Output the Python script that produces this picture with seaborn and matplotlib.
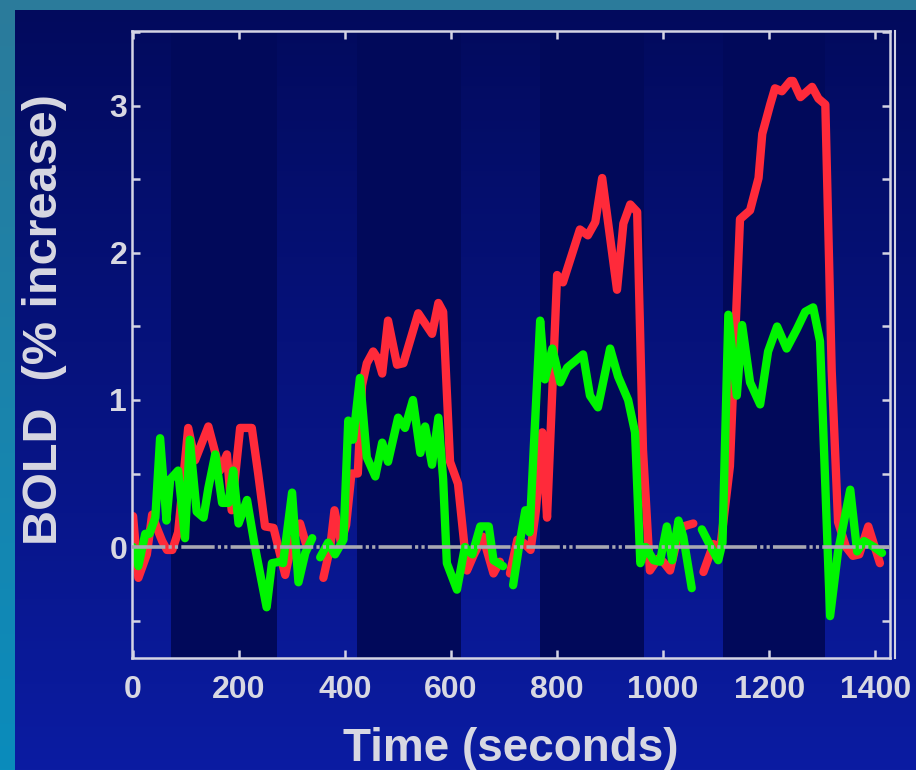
import numpy as np
import pandas as pd
import matplotlib
matplotlib.use("Agg")
import matplotlib.pyplot as plt
import seaborn as sns
from matplotlib.ticker import MultipleLocator, FuncFormatter

# stimulus blocks (seconds): darker shaded bands
block_start = [72, 423, 768, 1113]
block_end = [272, 619, 964, 1306]

# red trace, one list per block
red1_t = [0, 10, 26, 36, 46, 55, 64, 74, 85, 104, 117, 142, 164, 177, 186, 202, 224, 236, 249, 265, 287, 300, 315, 328]
red1_v = [0.21, -0.21, -0.05, 0.22, 0.12, 0.04, -0.02, -0.02, 0.10, 0.81, 0.59, 0.82, 0.52, 0.63, 0.25, 0.81, 0.81, 0.50, 0.14, 0.13, -0.19, 0.03, 0.16, 0.0]
red2_t = [359, 372, 380, 392, 402, 412, 424, 432, 441, 453, 462, 470, 481, 498, 510, 538, 564, 576, 585, 598, 613, 630, 642, 660, 680, 692]
red2_v = [-0.21, 0.0, 0.25, 0.03, 0.15, 0.50, 0.50, 1.10, 1.25, 1.33, 1.28, 1.18, 1.54, 1.24, 1.25, 1.59, 1.45, 1.66, 1.60, 0.58, 0.43, -0.16, -0.06, 0.07, -0.18, -0.10]
red3_t = [711, 725, 736, 750, 760, 772, 781, 800, 811, 843, 858, 872, 885, 913, 925, 938, 951, 962, 975, 990, 1000, 1013, 1025, 1038, 1057]
red3_v = [-0.18, 0.05, 0.03, -0.02, 0.25, 0.78, 0.20, 1.85, 1.80, 2.16, 2.12, 2.21, 2.51, 1.75, 2.20, 2.33, 2.28, 0.66, -0.16, -0.08, -0.10, -0.16, 0.03, 0.14, 0.16]
red4_t = [1076, 1095, 1108, 1126, 1145, 1164, 1180, 1187, 1202, 1211, 1224, 1240, 1245, 1259, 1281, 1293, 1306, 1318, 1330, 1345, 1358, 1370, 1387, 1409]
red4_v = [-0.17, 0.02, 0.0, 0.55, 2.23, 2.29, 2.51, 2.81, 3.01, 3.12, 3.10, 3.17, 3.17, 3.06, 3.13, 3.05, 3.01, 1.20, 0.17, 0.0, -0.06, -0.05, 0.14, -0.11]

# green trace, one list per block
green1_t = [0, 10, 23, 31, 42, 51, 63, 70, 85, 98, 107, 120, 133, 142, 155, 168, 180, 189, 199, 215, 230, 252, 262, 277, 283, 300, 312, 325, 338]
green1_v = [0.0, -0.13, 0.09, 0.09, 0.20, 0.74, 0.18, 0.46, 0.52, 0.06, 0.73, 0.24, 0.20, 0.40, 0.63, 0.30, 0.30, 0.52, 0.16, 0.32, 0.0, -0.41, -0.11, -0.10, -0.11, 0.37, -0.24, -0.04, 0.06]
green2_t = [353, 368, 381, 397, 406, 415, 428, 441, 457, 470, 481, 500, 513, 528, 542, 551, 564, 576, 585, 592, 611, 626, 640, 655, 671, 680, 698]
green2_v = [-0.07, 0.03, -0.05, 0.05, 0.86, 0.73, 1.15, 0.61, 0.48, 0.71, 0.58, 0.88, 0.81, 1.00, 0.64, 0.82, 0.56, 0.88, 0.46, -0.11, -0.29, 0.0, -0.05, 0.14, 0.14, -0.09, -0.13]
green3_t = [717, 728, 740, 748, 768, 777, 791, 806, 819, 849, 862, 877, 900, 915, 934, 947, 957, 967, 982, 994, 1007, 1017, 1029, 1038, 1054]
green3_v = [-0.26, 0.0, 0.25, 0.10, 1.54, 1.14, 1.35, 1.12, 1.22, 1.31, 1.03, 0.95, 1.35, 1.16, 1.00, 0.78, -0.11, 0.0, -0.09, -0.10, 0.14, -0.09, 0.18, 0.07, -0.28]
green4_t = [1073, 1090, 1104, 1112, 1123, 1139, 1149, 1164, 1183, 1198, 1215, 1233, 1252, 1268, 1283, 1296, 1315, 1330, 1353, 1366, 1379, 1398, 1413]
green4_v = [0.12, 0.0, -0.09, 0.03, 1.58, 1.03, 1.51, 1.12, 0.97, 1.33, 1.50, 1.35, 1.48, 1.60, 1.63, 1.40, -0.47, -0.03, 0.39, -0.03, 0.04, 0.0, -0.04]

x_ticks = [0, 200, 400, 600, 800, 1000, 1200, 1400]

frames = []
for sig, blocks in [("red", [(red1_t, red1_v), (red2_t, red2_v), (red3_t, red3_v), (red4_t, red4_v)]),
                    ("green", [(green1_t, green1_v), (green2_t, green2_v), (green3_t, green3_v), (green4_t, green4_v)])]:
    for i, (t, v) in enumerate(blocks):
        frames.append(pd.DataFrame({"time": t, "bold": v, "signal": sig, "block": i}))
df = pd.concat(frames, ignore_index=True)

plt.rcParams["font.family"] = ["Liberation Sans", "DejaVu Sans"]
plt.rcParams["lines.scale_dashes"] = False
text_col = "#d8d8e2"
spine_col = "#d4d4e4"

W, H = 916, 770
fig = plt.figure(figsize=(W / 100, H / 100), dpi=100)

# slide background
top_c = np.array([0x02, 0x0a, 0x5c]) / 255
bot_c = np.array([0x0b, 0x1c, 0xa2]) / 255
f = np.linspace(0, 1, H)[:, None]
bg = np.ones((H, W, 3)) * (top_c + (bot_c - top_c) * f)[:, None, :]
strip_top = np.array([0x2b, 0x7b, 0x9b]) / 255
strip_bot = np.array([0x0a, 0x8c, 0xbc]) / 255
bg[:, :15, :] = (strip_top + (strip_bot - strip_top) * f)[:, None, :]
bg[:10, :, :] = strip_top
bgax = fig.add_axes([0, 0, 1, 1])
bgax.imshow(bg, aspect="auto", extent=[0, 1, 0, 1], interpolation="bilinear")
bgax.axis("off")

ax = fig.add_axes([132 / W, 1 - 658 / H, (890 - 132) / W, (658 - 31) / H])
ax.set_facecolor("none")

for s, e in zip(block_start, block_end):
    ax.axvspan(s, e, color="#01095a", lw=0, zorder=0)

sns.lineplot(data=df, x="time", y="bold", hue="signal", units="block", estimator=None,
             hue_order=["red", "green"], palette={"red": "#ff2a3a", "green": "#00f500"},
             sort=False, legend=False, ax=ax, zorder=2)
for ln in ax.lines:
    ln.set_linewidth(6.0)
    ln.set_solid_capstyle("round")
    ln.set_solid_joinstyle("round")

ax.axhline(0, color="#a8a8b2", lw=2.6, dashes=(24, 2.3, 2.3, 2.3, 2.3, 2.3), zorder=3)

ax.set_xlim(-2, 1428)
ax.set_ylim(-0.755, 3.51)
ax.set_xticks(x_ticks)
ax.yaxis.set_major_locator(MultipleLocator(1))
ax.yaxis.set_minor_locator(MultipleLocator(0.5))
ax.yaxis.set_major_formatter(FuncFormatter(lambda v, p: f"{v:.0f}"))

ax.tick_params(which="both", direction="in", length=6, width=1.8, color=spine_col,
               top=True, right=True, labelsize=23, labelcolor=text_col)
ax.tick_params(axis="y", pad=3.5)
ax.tick_params(axis="x", pad=12)
for lab in ax.get_xticklabels() + ax.get_yticklabels():
    lab.set_fontweight("bold")
last = ax.xaxis.get_major_ticks()[-1]
last.tick1line.set_color("black")
last.tick2line.set_color("black")

for sp in ax.spines.values():
    sp.set_color(spine_col)
    sp.set_linewidth(1.8)
ax.plot([1.0066, 1.0066], [0, 1.0], transform=ax.transAxes, clip_on=False,
        color=spine_col, lw=1.5)

ax.set_xlabel("Time (seconds)", fontsize=33, fontweight="bold", color=text_col, labelpad=16)
ax.set_ylabel("BOLD  (% increase)", fontsize=35, fontweight="bold", color=text_col)
ax.yaxis.set_label_coords(-0.086, 0.539)

fig.savefig("out.png", dpi=100)
